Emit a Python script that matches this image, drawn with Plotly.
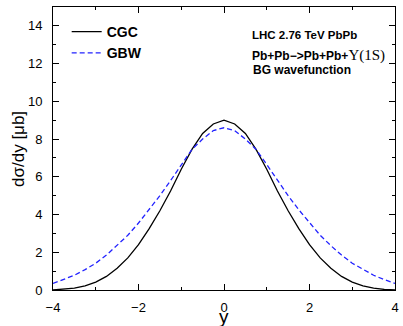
import plotly.graph_objects as go

y_vals = [-4.0, -3.75, -3.5, -3.25, -3.0, -2.75, -2.5, -2.25, -2.0, -1.75, -1.5, -1.25, -1.0, -0.75, -0.5, -0.25,
          0.0, 0.25, 0.5, 0.75, 1.0, 1.25, 1.5, 1.75, 2.0, 2.25, 2.5, 2.75, 3.0, 3.25, 3.5, 3.75, 4.0]

cgc_half = [9.0, 8.8, 8.3, 7.45, 6.4, 5.25, 4.2, 3.25, 2.4, 1.7, 1.15, 0.72, 0.42, 0.22, 0.1, 0.03, 0.0]
gbw_half = [8.6, 8.45, 8.0, 7.45, 6.65, 5.8, 5.0, 4.25, 3.55, 2.9, 2.35, 1.85, 1.42, 1.08, 0.78, 0.55, 0.35]

cgc = cgc_half[::-1] + cgc_half[1:]
gbw = gbw_half[::-1] + gbw_half[1:]

FONT = "Liberation Sans, Arial, Helvetica, sans-serif"
SERIF = "'Liberation Serif', 'Times New Roman', serif"

fig = go.Figure()
fig.add_trace(go.Scatter(x=y_vals, y=cgc, mode="lines", name="<b>CGC</b>",
                         line=dict(color="black", width=1.3)))
fig.add_trace(go.Scatter(x=y_vals, y=gbw, mode="lines", name="<b>GBW</b>",
                         line=dict(color="#2222ff", width=1.3, dash="5px,3px")))

axis_common = dict(showline=True, linecolor="black", linewidth=1, mirror="ticks",
                   ticks="inside", ticklen=6, tickcolor="black", showgrid=False,
                   zeroline=False, ticklabeloverflow="allow",
                   tickfont=dict(family=FONT, size=13, color="black"))

fig.update_xaxes(range=[-4, 4], dtick=2, tick0=0, ticklabelstandoff=5,
                 minor=dict(dtick=1, tick0=0, ticks="inside", ticklen=3, tickcolor="black", showgrid=False),
                 **axis_common)
fig.update_yaxes(range=[0, 15], dtick=2, tick0=0, ticklabelstandoff=7,
                 minor=dict(dtick=1, tick0=0, ticks="inside", ticklen=3, tickcolor="black", showgrid=False),
                 **axis_common)

# axis titles
fig.add_annotation(xref="paper", yref="paper", x=0.5, y=-0.095, xanchor="center", yanchor="middle",
                   text="y", showarrow=False, font=dict(family=FONT, size=19, color="black"))
fig.add_annotation(xref="paper", yref="paper", x=-0.101, y=0.5, xanchor="center", yanchor="middle",
                   text="dσ/dy [μb]", textangle=-90, showarrow=False,
                   font=dict(family=FONT, size=17, color="black"))

# labels
fig.add_annotation(xref="paper", yref="paper", x=0.575, y=0.90, xanchor="left", yanchor="middle",
                   text="<b>LHC 2.76 TeV PbPb</b>", showarrow=False,
                   font=dict(family=FONT, size=11.5, color="black"))
fig.add_annotation(xref="paper", yref="paper", x=0.575, y=0.83, xanchor="left", yanchor="middle",
                   text="<b>Pb+Pb−>Pb+Pb+</b><span style=\"font-family:" + SERIF + ";font-size:15px\">Υ(1S)</span>",
                   showarrow=False, font=dict(family=FONT, size=12, color="black"))
fig.add_annotation(xref="paper", yref="paper", x=0.578, y=0.777, xanchor="left", yanchor="middle",
                   text="<b>BG wavefunction</b>", showarrow=False,
                   font=dict(family=FONT, size=12, color="black"))

fig.update_layout(
    width=403, height=326,
    margin=dict(l=53, r=4, t=7, b=36),
    paper_bgcolor="white", plot_bgcolor="white",
    font=dict(family=FONT, color="black"),
    showlegend=True,
    legend=dict(x=0.04, y=0.968, xanchor="left", yanchor="top", bgcolor="rgba(0,0,0,0)",
                font=dict(family=FONT, size=14, color="black"), tracegroupgap=0),
)

fig.write_html("out.html", config={"displayModeBar": False},
               post_script="document.body.style.margin='0';document.body.style.overflow='hidden';")
